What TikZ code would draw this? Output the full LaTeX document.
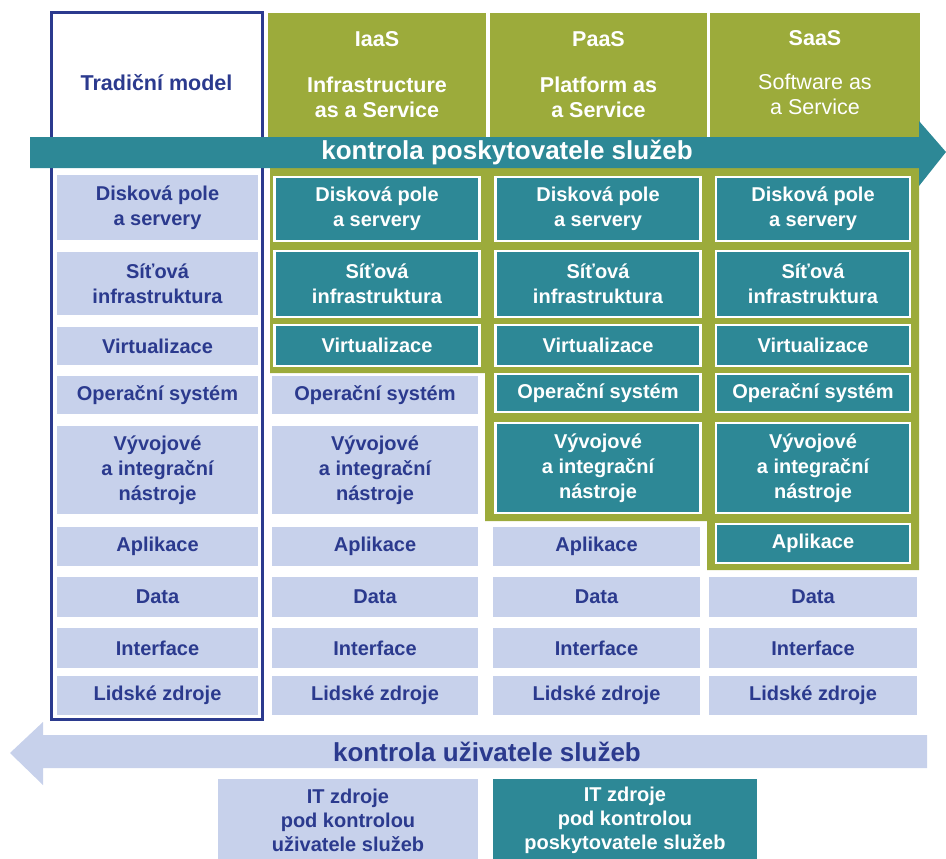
\documentclass[tikz,border=0pt]{standalone}
\usepackage{fontspec}
\setmainfont{Liberation Sans}
\usetikzlibrary{positioning}

\definecolor{tealc}{HTML}{2D8896}
\definecolor{olivec}{HTML}{9CAB3B}
\definecolor{lightc}{HTML}{C7D1EB}
\definecolor{navyc}{HTML}{2B3A8E}

\begin{document}
\begin{tikzpicture}[x=1pt,y=-1pt,
    box/.style={inner sep=0pt, align=center, font=\fontsize{20}{25}\selectfont\bfseries},
    lbox/.style={box, fill=lightc, text=navyc},
    tbox/.style={box, fill=tealc, draw=white, line width=2.5pt, text=white},
    headbox/.style={fill=olivec, inner sep=0pt, minimum width=#1, minimum height=137},
    headtext/.style={align=center, text=white, font=\fontsize{21.5}{25}\selectfont\bfseries},
    bandtext/.style={font=\fontsize{26}{30}\selectfont\bfseries}]
                \useasboundingbox (0,0) rectangle (946,859);

                % olive headers and background
                \node[headbox=218] (iaas) at (377,81.5) {};
                \node[headbox=217] (paas) at (598.5,81.5) {};
                \node[headbox=210] (saas) at (815,81.5) {};
                \fill[olivec] (270,150) -- (919,150) -- (919,570) -- (707,570) -- (707,521) -- (485,521) -- (485,373) -- (270,373) -- cycle;

                \node[headtext] (iaastxt) at (iaas.center |- 0,75) {IaaS\\[21pt]Infrastructure\\as a Service};
                \node[headtext] (paastxt) at (paas.center |- 0,75) {PaaS\\[21pt]Platform as\\a Service};
                \node[headtext] (saastxt) at (saas.center |- 0,73) {SaaS\\[19pt]{\mdseries Software as}\\{\mdseries a Service}};
                \node[text=navyc, font=\fontsize{21.5}{25}\selectfont\bfseries] (trad) at (156.5,83) {Tradiční model};

                % tradicni model
                \node[lbox, minimum width=201, minimum height=65] (t1) at (157.5,207.5) {Disková pole\\a servery};
                \node[lbox, minimum width=201, minimum height=63] (t2) at (157.5,283.5) {Síťová\\infrastruktura};
                \node[lbox, minimum width=201, minimum height=38] (t3) at (157.5,346) {Virtualizace};
                \node[lbox, minimum width=201, minimum height=38] (t4) at (157.5,395) {Operační systém};
                \node[lbox, minimum width=201, minimum height=88] (t5) at (157.5,470) {Vývojové\\a integrační\\nástroje};
                \node[lbox, minimum width=201, minimum height=39] (t6) at (157.5,546.5) {Aplikace};
                \node[lbox, minimum width=201, minimum height=40] (t7) at (157.5,597) {Data};
                \node[lbox, minimum width=201, minimum height=40] (t8) at (157.5,648) {Interface};
                \node[lbox, minimum width=201, minimum height=39] (t9) at (157.5,695.5) {Lidské zdroje};

                % IaaS
                \node[tbox, minimum width=205, minimum height=64] (i1) at (377,209) {Disková pole\\a servery};
                \node[tbox, minimum width=205, minimum height=66] (i2) at (377,284) {Síťová\\infrastruktura};
                \node[tbox, minimum width=205, minimum height=41] (i3) at (377,345.5) {Virtualizace};
                \node[lbox, minimum width=206, minimum height=38] (i4) at (375,395) {Operační systém};
                \node[lbox, minimum width=206, minimum height=88] (i5) at (375,470) {Vývojové\\a integrační\\nástroje};
                \node[lbox, minimum width=206, minimum height=39] (i6) at (375,546.5) {Aplikace};
                \node[lbox, minimum width=206, minimum height=40] (i7) at (375,597) {Data};
                \node[lbox, minimum width=206, minimum height=40] (i8) at (375,648) {Interface};
                \node[lbox, minimum width=206, minimum height=39] (i9) at (375,695.5) {Lidské zdroje};

                % PaaS
                \node[tbox, minimum width=205, minimum height=64] (p1) at (598,209) {Disková pole\\a servery};
                \node[tbox, minimum width=205, minimum height=66] (p2) at (598,284) {Síťová\\infrastruktura};
                \node[tbox, minimum width=205, minimum height=41] (p3) at (598,345.5) {Virtualizace};
                \node[tbox, minimum width=205, minimum height=38] (p4) at (598,393) {Operační systém};
                \node[tbox, minimum width=205, minimum height=90] (p5) at (598,468) {Vývojové\\a integrační\\nástroje};
                \node[lbox, minimum width=207, minimum height=39] (p6) at (596.5,546.5) {Aplikace};
                \node[lbox, minimum width=207, minimum height=40] (p7) at (596.5,597) {Data};
                \node[lbox, minimum width=207, minimum height=40] (p8) at (596.5,648) {Interface};
                \node[lbox, minimum width=207, minimum height=39] (p9) at (596.5,695.5) {Lidské zdroje};

                % SaaS
                \node[tbox, minimum width=194, minimum height=64] (s1) at (813,209) {Disková pole\\a servery};
                \node[tbox, minimum width=194, minimum height=66] (s2) at (813,284) {Síťová\\infrastruktura};
                \node[tbox, minimum width=194, minimum height=41] (s3) at (813,345.5) {Virtualizace};
                \node[tbox, minimum width=194, minimum height=38] (s4) at (813,393) {Operační systém};
                \node[tbox, minimum width=194, minimum height=90] (s5) at (813,468) {Vývojové\\a integrační\\nástroje};
                \node[tbox, minimum width=194, minimum height=39] (s6) at (813,543.5) {Aplikace};
                \node[lbox, minimum width=208, minimum height=40] (s7) at (813,597) {Data};
                \node[lbox, minimum width=208, minimum height=40] (s8) at (813,648) {Interface};
                \node[lbox, minimum width=208, minimum height=39] (s9) at (813,695.5) {Lidské zdroje};

                % ramecek tradicniho modelu
                \draw[navyc, line width=3pt] (51,13) rectangle (262,719);

                % sipky
                \fill[tealc] (30,137) -- (919,137) -- (919,121) -- (946,152) -- (919,186) -- (919,168) -- (30,168) -- cycle;
                \node[bandtext, text=white] (provider) at (507,152) {kontrola poskytovatele služeb};
                \fill[lightc] (927,735) -- (43,735) -- (43,722) -- (10,753) -- (43,785) -- (43,768) -- (927,768) -- cycle;
                \node[bandtext, text=navyc] (user) at (487,752) {kontrola uživatele služeb};

                % legenda
                \node[lbox, font=\fontsize{20}{24}\selectfont\bfseries, minimum width=260, minimum height=82] (itu) at (348,820) {IT zdroje\\pod kontrolou\\uživatele služeb};
                \node[box, font=\fontsize{20}{24}\selectfont\bfseries, fill=tealc, text=white, minimum width=264, minimum height=82] (itp) at (625,820) {IT zdroje\\pod kontrolou\\poskytovatele služeb};
            \end{tikzpicture}
\end{document}
